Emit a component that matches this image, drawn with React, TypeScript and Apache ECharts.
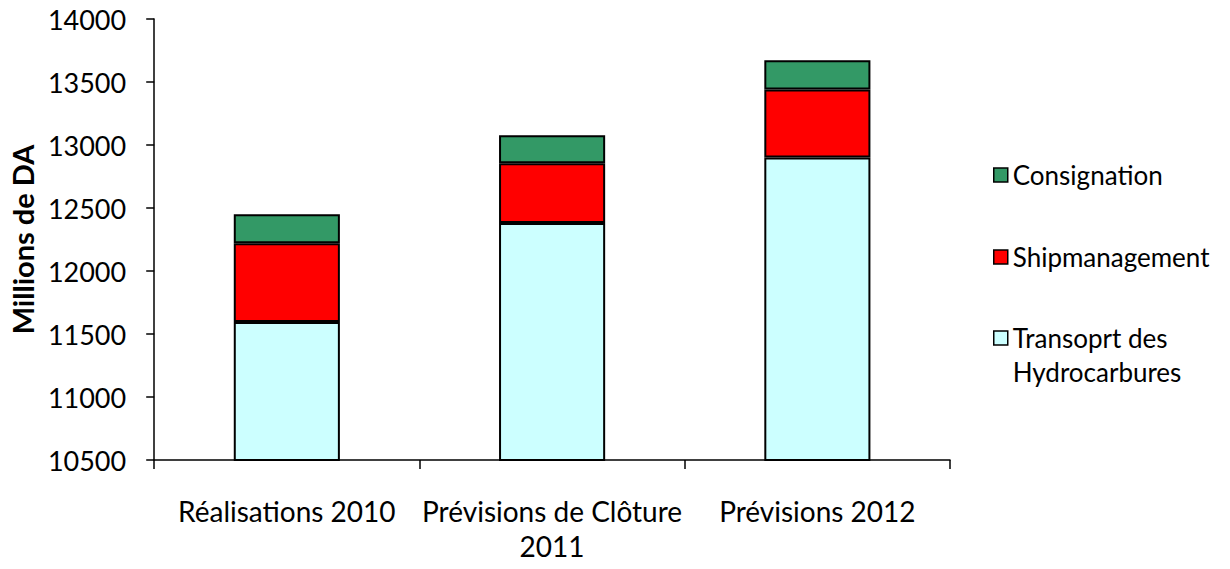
import React, { useEffect, useRef } from "react";
import * as echarts from "echarts";

const categories = ["Réalisations 2010", "Prévisions de Clôture\n2011", "Prévisions 2012"];
const transport = [11595, 12380, 12900];
const shipmanagement = [625, 475, 540];
const consignation = [230, 222, 232];
const yTicks = { min: 10500, max: 14000, interval: 500 };

const FONT = "Lato, 'Open Sans', sans-serif";
const T_NAME = "Transoprt des\nHydrocarbures";

export default function App() {
  const ref = useRef<HTMLDivElement>(null);
  useEffect(() => {
    if (!ref.current) return;
    const chart = echarts.init(ref.current, null, { renderer: "svg" });
    const border = { borderColor: "#000", borderWidth: 2 };
    const legendBase = {
      orient: "vertical",
      left: 993,
      padding: 0,
      itemWidth: 14,
      itemHeight: 14,
      icon: "rect",
      textStyle: { fontFamily: FONT, fontSize: 26, color: "#000", lineHeight: 34 },
      itemStyle: { borderColor: "#000", borderWidth: 1.5 },
    };
    chart.setOption({
      animation: false,
      backgroundColor: "#fff",
      textStyle: { fontFamily: FONT },
      grid: { left: 146, right: 280, top: 19, bottom: 109, containLabel: false },
      legend: [
        {
          ...legendBase,
          top: 158,
          itemGap: 48,
          data: ["Consignation", "Shipmanagement"],
        },
        {
          ...legendBase,
          top: 287,
          data: [T_NAME],
          formatter: (name: string) => "\n" + name,
        },
      ],
      xAxis: {
        type: "category",
        data: categories,
        axisLine: { lineStyle: { color: "#000", width: 1.5 } },
        axisTick: { show: true, length: 9, lineStyle: { color: "#000", width: 1.5 } },
        axisLabel: { color: "#000", fontSize: 28, fontFamily: FONT, margin: 33, lineHeight: 35, interval: 0 },
        splitLine: { show: false },
      },
      yAxis: {
        type: "value",
        min: yTicks.min,
        max: yTicks.max,
        interval: yTicks.interval,
        name: "Millions de DA",
        nameLocation: "middle",
        nameGap: 112,
        nameTextStyle: { color: "#000", fontSize: 29, fontWeight: "bold", fontFamily: FONT },
        axisLine: { show: true, lineStyle: { color: "#000", width: 1.5 } },
        axisTick: { show: true, length: 8, lineStyle: { color: "#000", width: 1.5 } },
        axisLabel: {
          color: "#000",
          fontSize: 27,
          fontFamily: FONT,
          margin: 28,
          formatter: (v: number) => String(v),
        },
        splitLine: { show: false },
      },
      series: [
        {
          name: T_NAME,
          type: "bar",
          stack: "total",
          barWidth: "40%",
          data: transport,
          itemStyle: { color: "#CCFFFF", ...border },
        },
        {
          name: "Shipmanagement",
          type: "bar",
          stack: "total",
          barWidth: "40%",
          data: shipmanagement,
          itemStyle: { color: "#FF0000", ...border },
        },
        {
          name: "Consignation",
          type: "bar",
          stack: "total",
          barWidth: "40%",
          data: consignation,
          itemStyle: { color: "#339966", ...border },
        },
      ],
    });
    return () => chart.dispose();
  }, []);
  return <div ref={ref} style={{ width: 1230, height: 569, margin: -8 }} />;
}
